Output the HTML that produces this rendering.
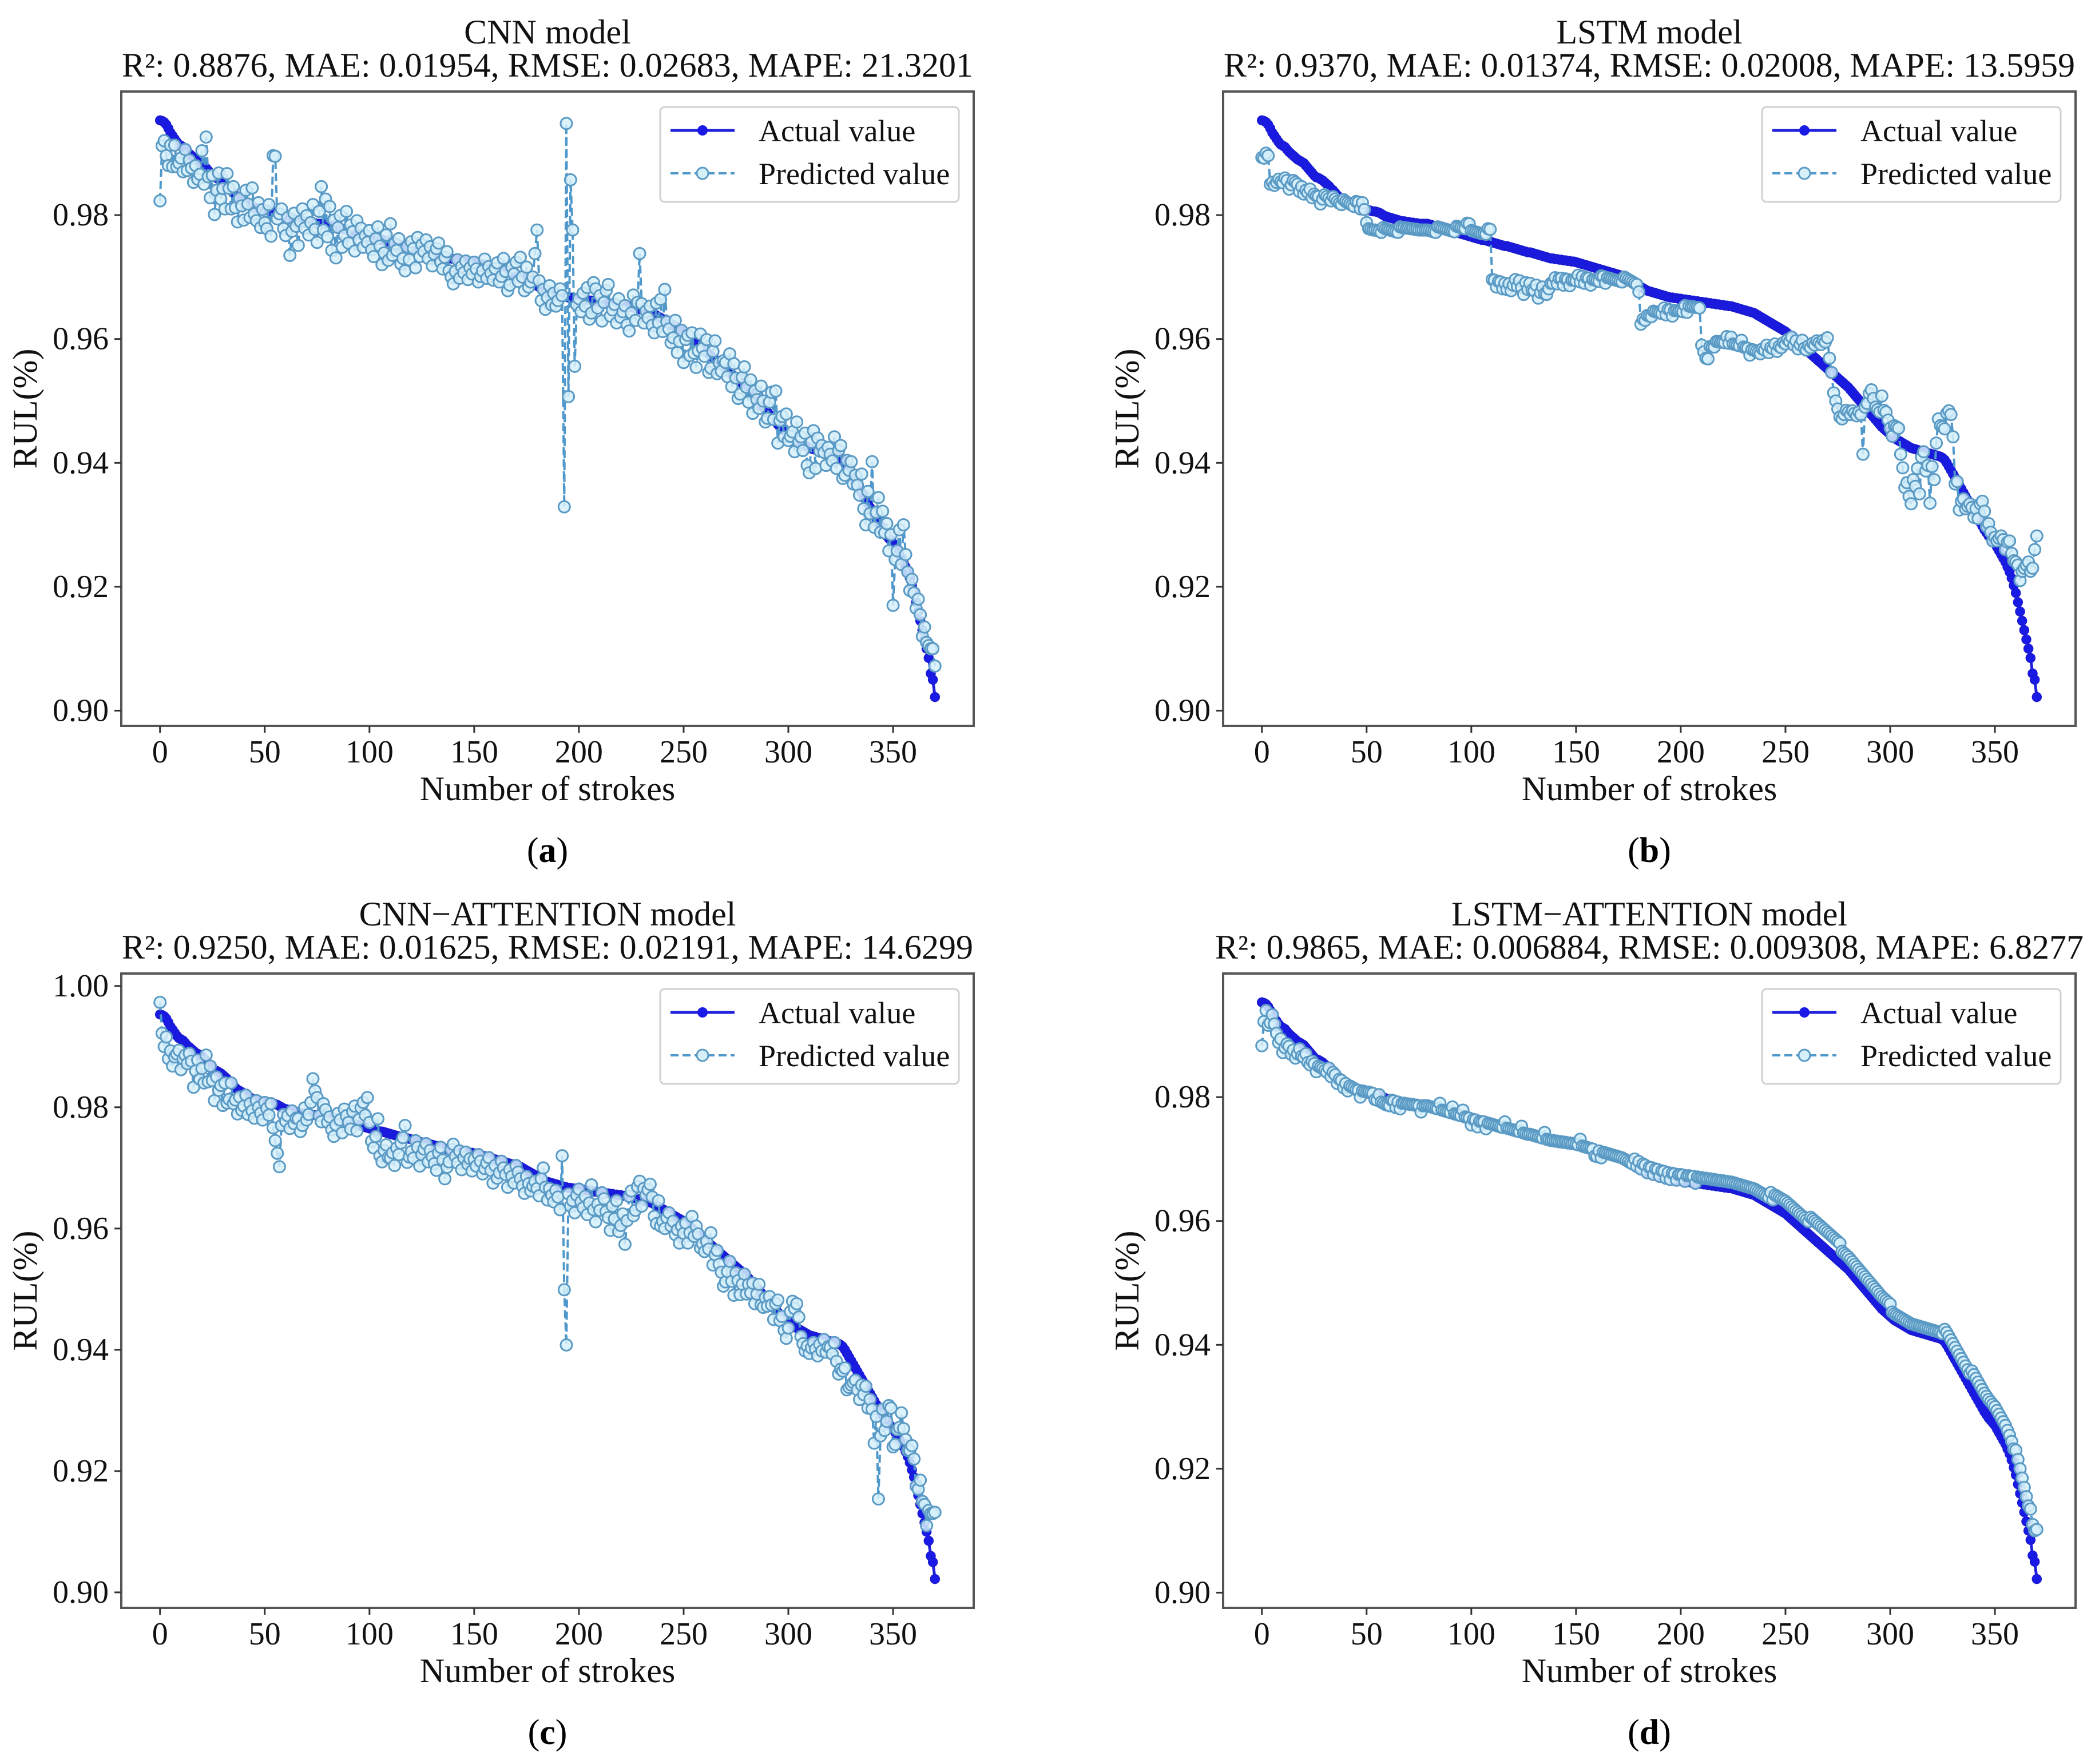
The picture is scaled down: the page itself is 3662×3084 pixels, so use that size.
<!DOCTYPE html>
<html><head><meta charset="utf-8">
<style>
html,body{margin:0;padding:0;background:#fff;}
svg{display:block;font-family:"Liberation Serif",serif;}
</style></head>
<body>
<svg id="fig" width="3662" height="3084" viewBox="0 0 3662 3084" xmlns="http://www.w3.org/2000/svg"></svg>
<script>
// ---------- DATA (values are RUL x 10000 for actual; prediction offsets in units of 0.001) ----------
const strokesCount = 371;
const actualRul = [
9953,9952,9950,9946,9940,9933,9928,9923,9918,9914,
9912,9910,9906,9902,9899,9896,9893,9890,9888,9886,
9884,9880,9876,9872,9868,9864,9861,9860,9858,9856,
9853,9850,9847,9843,9840,9836,9832,9829,9827,9825,
9822,9820,9818,9816,9814,9812,9811,9810,9810,9809,
9808,9808,9807,9806,9806,9805,9804,9802,9800,9798,
9797,9796,9795,9794,9793,9792,9791,9790,9790,9789,
9789,9788,9788,9787,9787,9786,9786,9786,9786,9786,
9785,9784,9783,9782,9781,9780,9779,9778,9777,9776,
9775,9774,9773,9772,9771,9770,9769,9768,9767,9766,
9765,9764,9763,9762,9761,9760,9760,9759,9758,9757,
9756,9755,9754,9753,9752,9751,9750,9750,9749,9748,
9747,9746,9745,9744,9743,9742,9741,9740,9740,9739,
9738,9737,9736,9735,9734,9733,9732,9731,9730,9730,
9729,9729,9728,9728,9727,9727,9726,9726,9725,9725,
9724,9723,9722,9721,9720,9719,9718,9717,9716,9715,
9714,9713,9712,9711,9710,9709,9708,9707,9706,9705,
9704,9703,9702,9700,9698,9696,9694,9692,9690,9688,
9686,9684,9682,9680,9678,9677,9676,9675,9674,9673,
9672,9671,9670,9669,9668,9667,9667,9666,9666,9665,
9665,9664,9664,9663,9663,9662,9662,9661,9661,9660,
9660,9659,9659,9658,9658,9657,9657,9656,9656,9655,
9655,9654,9654,9653,9653,9652,9651,9650,9649,9648,
9647,9646,9645,9644,9643,9642,9640,9638,9636,9634,
9632,9630,9628,9626,9624,9622,9620,9618,9616,9614,
9612,9609,9606,9603,9600,9597,9594,9591,9588,9585,
9582,9579,9576,9573,9570,9567,9564,9561,9558,9555,
9552,9549,9546,9543,9540,9537,9534,9531,9528,9525,
9522,9518,9514,9510,9506,9502,9498,9494,9490,9486,
9482,9478,9474,9470,9466,9462,9458,9455,9452,9449,
9446,9443,9440,9438,9436,9434,9432,9430,9428,9426,
9424,9423,9422,9421,9420,9419,9418,9417,9416,9415,
9414,9413,9412,9411,9410,9408,9405,9400,9394,9388,
9382,9376,9370,9364,9358,9352,9346,9340,9334,9328,
9322,9316,9310,9304,9298,9292,9287,9282,9278,9274,
9270,9264,9258,9252,9246,9240,9232,9224,9214,9202,
9190,9175,9160,9145,9130,9115,9100,9085,9060,9050,
9022];

const cnnPredOffset = [
-13,-4,-3,-5,-6,-2,-5,-1,-4,-3, -2,-4,0,-3,-1,-2,-4,-1,-3,-2,
2,-3,5,-1,-4,0,-6,-2,1,-3, -1,-4,2,0,-3,1,-2,-4,0,-1,
-3,2,0,-2,3,-1,-2,1,-3,0, -2,-3,1,-4,9,9,-1,0,1,-2,
-3,0,-6,-2,1,-1,-4,0,2,-1, 1,-2,0,3,-1,-3,2,6,-1,4,
-2,3,-4,1,-5,0,2,-3,-1,3, -2,1,0,-3,2,-1,1,-2,0,-1,
1,-2,-3,0,2,-1,-4,-2,1,-3, 3,-2,0,-1,1,-3,-2,-4,0,-2,
1,0,-3,2,-1,1,0,2,-1,1, -2,0,1,2,-1,-2,0,1,-2,-3,
-4,-2,0,-3,-1,-2,0,-3,-1,-2, 0,-1,-3,-2,-1,1,-2,0,-1,-2,
0,1,-2,-1,2,0,-3,-2,1,0, 2,-1,3,0,-2,2,-1,0,1,5,
9,1,-2,0,-3,-1,1,-2,0,-2, -1,1,0,-34,28,-16,19,11,-11,-1,
0,-2,1,-1,2,-3,-2,3,2,-1, 1,-3,0,2,3,-2,-1,0,-3,1,
-2,-1,0,-3,-4,-1,2,-2,1,9, 1,-2,0,-1,1,-2,-3,2,-1,3,
-2,5,0,-1,-3,-2,1,-4,-2,0, -5,-1,0,-3,1,-2,-4,-1,2,0,
-1,2,-3,-2,1,3,-2,0,-1,1, 1,-1,3,-2,2,0,-3,-2,1,3,
0,-2,2,-3,1,0,-1,3,1,-2, -1,2,4,0,5,-3,1,2,-1,3,
-1,0,1,-2,3,0,1,-1,2,-3, -4,1,3,-3,2,0,1,0,-2,1,
0,-1,3,-2,1,2,-3,-2,1,0, 2,-1,1,0,-1,3,-2,-4,2,-1,
8,-2,1,4,-1,3,0,2,-2,1, -10,-2,0,4,-1,6,2,0,-2,1,
0,-1,2,1,-1,2,1,2,4,5, 5];

const lstmPredOffset = [
-6,-6,-5,-5,-9,-8,-8,-7,-6,-6, -6,-5,-5,-6,-5,-4,-4,-4,-5,-4,
-5,-4,-4,-3,-4,-3,-3,-3,-4,-3, -2,-2,-2,-2,-1,-1,-1,-1,-1,0,
0,0,0,0,0,1,1,0,1,0, -2,-3,-3,-3,-3,-3,-3,-3,-2,-2,
-2,-2,-2,-2,-2,-2,-1,-1,-1,-1, -1,-1,-1,-1,-1,-1,-1,-1,-1,-1,
-1,-1,-1,-1,0,0,0,0,0,0, 0,0,0,1,1,1,1,1,2,2,
1,1,1,1,1,1,1,1,2,2, -6,-6,-7,-6,-6,-7,-6,-7,-6,-7,
-6,-5,-6,-5,-6,-7,-5,-6,-5,-6, -6,-5,-7,-6,-5,-6,-6,-5,-4,-4,
-3,-4,-3,-3,-4,-3,-3,-4,-3,-3, -3,-2,-3,-2,-3,-2,-2,-3,-2,-2,
-2,-2,-1,-1,-2,-1,-1,-1,-1,-1, -1,-1,-1,0,0,0,0,0,0,0,
-1,-6,-5,-5,-4,-4,-4,-3,-3,-3, -3,-3,-2,-3,-2,-2,-3,-2,-2,-2,
-2,-2,-1,-2,-1,-1,-1,-1,-1,-1, -7,-8,-9,-9,-7,-7,-7,-6,-6,-6,
-6,-6,-5,-6,-5,-6,-6,-6,-6,-5, -6,-6,-6,-7,-6,-6,-6,-6,-6,-5,
-5,-4,-5,-4,-4,-3,-4,-3,-3,-2, -2,-1,-1,0,-1,0,-1,0,1,0,
0,1,1,2,2,3,3,3,4,4, 5,2,0,-3,-4,-5,-6,-6,-5,-4,
-4,-4,-3,-3,-3,-2,-2,-8,0,1, 3,4,3,2,2,2,5,3,3,2,
1,0,2,2,2,-2,-4,-7,-6,-8, -9,-5,-6,-3,-7,-1,0,-3,-2,-8,
-2,-4,2,6,5,5,5,8,9,9, 6,-1,0,-4,-2,-1,-2,-1,0,0,
-1,1,0,3,4,3,1,2,1,0, 1,1,2,3,3,2,4,5,4,4,
5,6,5,8,10,12,14,14,17,21, 26];

const cnnAttPredOffset = [
2,-3,-5,-3,-6,-4,-6,-4,-3,-2, -5,-3,-2,-3,-1,-2,-6,-3,-1,-4,
-2,-4,1,-3,0,-2,-5,-1,-3,-2, -5,-1,-4,-3,0,-3,-2,-4,-1,-3,
-2,0,-3,-1,-2,-3,0,-1,-2,-3, 0,-1,-2,0,-4,-6,-8,-10,-3,-1,
-2,-1,-3,0,-2,-1,-1,-3,-2,1, -1,0,2,6,4,3,0,-1,2,1,
-1,0,-2,-3,-1,1,0,-2,2,1, 0,-1,2,3,-1,1,3,4,2,5,
1,-2,-3,-1,2,-4,-5,-3,-2,-4, -4,-3,-5,-2,-3,-1,0,2,-4,-3,
-2,-3,0,-1,-4,-2,-1,0,-3,-1, -2,-3,-4,-1,0,-2,-5,-3,-2,0,
1,-1,-2,0,-3,-1,0,-2,-1,-3, -1,-2,0,-1,-3,-2,-1,0,-2,-4,
-1,-3,-2,0,-1,-2,-4,-1,-2,-3, 0,-1,-2,-3,-4,-1,-2,-3,-2,-1,
-2,-3,0,2,-1,-3,-1,-2,-3,-1, -2,-4,5,-17,-26,-1,-3,-2,-4,-1,
0,-2,-3,-1,-4,-2,1,-3,-5,-2, -3,0,-1,-3,-4,-6,-2,-4,-1,-6,
-5,-3,-8,-4,0,1,-3,-2,2,3, -1,2,1,2,3,1,-2,-3,1,-3,
-2,-3,-1,0,-2,-1,-3,-2,-4,-1, -2,0,-3,-1,2,-1,1,0,-2,-1,
-2,0,-1,2,-3,-1,0,-2,-3,-5, -4,-2,0,-3,-5,-1,-2,-4,-2,0,
-3,-1,-2,0,-3,-1,1,-2,-2,0, -1,1,0,-2,1,2,-1,0,-2,-3,
-1,2,4,3,4,2,-1,-2,-3,-2, -3,-2,-1,-2,-3,-1,-2,0,-2,-1,
-1,-2,0,-3,-5,-4,-4,-3,-6,-5, -4,-3,-2,-3,-4,-1,-2,0,-3,-1,
-2,-7,-2,-15,-4,1,-2,0,3,3, -3,-2,1,2,5,3,2,1,2,4,
3,0,1,4,2,3,1,5,7,8, 11];

const lstmAttPredOffset = [
-7,-3,-1,-3,-2,0,-1,-2,-3,-2, -4,-3,-2,-2,-3,-2,-3,-2,-1,-2,
-2,-1,-2,-2,-1,-1,-2,-1,-1,-1, -1,-1,0,-1,0,0,-1,0,0,-1,
0,-1,0,0,0,0,0,-1,0,0, 0,0,0,0,-1,-1,0,-1,-1,-1,
-1,-1,0,0,-1,0,-1,0,0,0, 0,0,0,0,0,0,-1,0,0,0,
0,0,0,0,0,1,0,0,0,0, 0,1,0,0,0,0,1,0,0,0,
-1,0,0,-1,0,0,0,-1,0,0, 0,0,0,0,0,0,1,0,0,0,
0,0,0,0,1,0,0,0,0,0, 0,0,0,0,0,1,0,0,0,0,
0,0,0,0,0,0,0,0,0,0, 0,0,1,0,0,0,0,0,0,-1,
-1,0,-1,0,0,0,0,0,0,0, 0,0,0,0,0,0,0,0,1,0,
1,0,1,1,0,1,1,0,1,1, 0,1,1,0,1,0,1,1,0,1,
1,1,0,1,1,1,1,0,1,1, 1,1,1,1,1,1,1,1,1,1,
1,1,1,1,1,1,1,1,1,1, 1,1,1,1,1,1,1,1,1,1,
1,1,1,2,1,2,2,2,2,2, 2,2,2,2,2,2,2,2,2,2,
2,2,3,3,3,3,3,3,3,3, 3,3,3,3,3,3,3,2,2,2,
2,2,2,2,2,2,2,2,2,2, 2,2,2,2,2,2,2,2,2,2,
2,1,1,1,1,1,1,1,1,1, 1,1,1,1,1,1,1,1,1,1,
1,1,1,1,1,1,2,2,2,2, 2,2,2,2,2,2,2,2,2,3,
3,3,3,3,3,3,3,3,3,3, 3,3,3,3,3,3,3,3,3,3,
4,4,4,4,4,4,4,5,5,5, 8];

const panelNames = ["CNN model","LSTM model","CNN\u2212ATTENTION model","LSTM\u2212ATTENTION model"];
const panelMetrics = [
"R\u00b2: 0.8876, MAE: 0.01954, RMSE: 0.02683, MAPE: 21.3201",
"R\u00b2: 0.9370, MAE: 0.01374, RMSE: 0.02008, MAPE: 13.5959",
"R\u00b2: 0.9250, MAE: 0.01625, RMSE: 0.02191, MAPE: 14.6299",
"R\u00b2: 0.9865, MAE: 0.006884, RMSE: 0.009308, MAPE: 6.8277"];
const panelLetters = ["a","b","c","d"];
const xTicks = [0,50,100,150,200,250,300,350];
const yTicksShort = [0.90,0.92,0.94,0.96,0.98];
const yTicksLong = [0.90,0.92,0.94,0.96,0.98,1.00];

// ---------- DRAWING ----------
const NS = "http://www.w3.org/2000/svg";
const svg = document.getElementById("fig");
function mk(tag, attrs, parent){
  const e = document.createElementNS(NS, tag);
  for (const k in attrs) e.setAttribute(k, attrs[k]);
  (parent || svg).appendChild(e);
  return e;
}
const AX_W = 1490, AX_H = 1109;
const origins = [[212,160],[2138,160],[212,1702],[2138,1702]];
const offsetsList = [cnnPredOffset, lstmPredOffset, cnnAttPredOffset, lstmAttPredOffset];

for (let p = 0; p < 4; p++) {
  const [L, T] = origins[p];
  const g = mk("g", {});
  
  
  const act = actualRul.map(v => v / 10000);
  const pred = act.map((v, i) => v + (offsetsList[p][i] || 0) / 1000);
  const all = act.concat(pred);
  const ymin = Math.min(...all), ymax = Math.max(...all);
  const ypad = (ymax - ymin) * 0.05;
  const y0 = ymin - ypad, y1 = ymax + ypad;
  const n = actualRul.length;
  const x0 = -(n - 1) * 0.05, x1 = (n - 1) * 1.05;
  const sx = v => L + (v - x0) / (x1 - x0) * AX_W;
  const sy = v => T + AX_H - (v - y0) / (y1 - y0) * AX_H;

  const frame = mk("rect", {x:L, y:T, width:AX_W, height:AX_H, fill:"#fff", stroke:"none"}, g);
  
  

  let d = act.map((v,i)=>(i?"L":"M")+sx(i).toFixed(1)+","+sy(v).toFixed(1)).join("");
  const aLine = mk("path", {d:d, fill:"none", stroke:"#2020dc", "stroke-width":5}, g);
  
  
  const aMarks = mk("g", {}, g);
  
  
  act.forEach((v,i)=>{
    const c = mk("circle", {cx:sx(i), cy:sy(v), r:8, fill:"#1a1ae6", stroke:"#1a1ad0", "stroke-width":1.5}, aMarks);
    
    
  });

  d = pred.map((v,i)=>(i?"L":"M")+sx(i).toFixed(1)+","+sy(v).toFixed(1)).join("");
  const pLine = mk("path", {d:d, fill:"none", stroke:"#4f98cc", "stroke-width":4, "stroke-dasharray":"14,7"}, g);
  
  
  const pMarks = mk("g", {}, g);
  
  
  pred.forEach((v,i)=>{
    const c = mk("circle", {cx:sx(i), cy:sy(v), r:10, fill:"rgba(214,240,250,0.85)", stroke:"#5a9ac4", "stroke-width":3}, pMarks);
    
    
  });

  const border = mk("rect", {x:L, y:T, width:AX_W, height:AX_H, fill:"none", stroke:"#555", "stroke-width":4}, g);
  
  

  xTicks.forEach(t=>{
    const x = sx(t);
    const tk = mk("line", {x1:x, y1:T+AX_H, x2:x, y2:T+AX_H+12, stroke:"#333", "stroke-width":3}, g);
    
    
    const tl = mk("text", {x:x, y:T+AX_H+64, "text-anchor":"middle", "font-size":56, fill:"#111"}, g);
    
    
    tl.textContent = String(t);
  });
  const yt = (y1 > 1.0) ? yTicksLong : yTicksShort;
  yt.forEach(t=>{
    const y = sy(t);
    const tk = mk("line", {x1:L-12, y1:y, x2:L, y2:y, stroke:"#333", "stroke-width":3}, g);
    
    
    const tl = mk("text", {x:L-22, y:y+18, "text-anchor":"end", "font-size":56, fill:"#111"}, g);
    
    
    tl.textContent = t.toFixed(2);
  });

  const cx = L + AX_W/2;
  const t1 = mk("text", {x:cx, y:T-84, "text-anchor":"middle", "font-size":60, fill:"#111"}, g);
  
  
  t1.textContent = panelNames[p];
  const t2 = mk("text", {x:cx, y:T-26, "text-anchor":"middle", "font-size":60, fill:"#111"}, g);
  
  
  t2.textContent = panelMetrics[p];

  const xl = mk("text", {x:cx, y:T+AX_H+130, "text-anchor":"middle", "font-size":60, fill:"#111"}, g);
  
  
  xl.textContent = "Number of strokes";
  const ylx = L - 148, yly = T + AX_H/2;
  const yl = mk("text", {x:ylx, y:yly, "text-anchor":"middle", "font-size":60, fill:"#111", transform:"rotate(-90 "+ylx+" "+yly+")"}, g);
  
  
  yl.textContent = "RUL(%)";

  const pl = mk("text", {x:cx, y:T+AX_H+238, "text-anchor":"middle", "font-size":62, fill:"#000"}, g);
  
  
  const s1 = mk("tspan", {}, pl); s1.textContent = "(";
  const s2 = mk("tspan", {"font-weight":"bold"}, pl); s2.textContent = panelLetters[p];
  const s3 = mk("tspan", {}, pl); s3.textContent = ")";

  const lg = mk("g", {}, g);
  
  
  const LX = L + 942, LY = T + 27;
  mk("rect", {x:LX, y:LY, width:522, height:166, rx:8, fill:"rgba(255,255,255,0.85)", stroke:"#d0d0d0", "stroke-width":3}, lg);
  const e1 = mk("g", {}, lg);
  
  
  mk("line", {x1:LX+18, y1:LY+41, x2:LX+130, y2:LY+41, stroke:"#2020dc", "stroke-width":5}, e1);
  mk("circle", {cx:LX+74, cy:LY+41, r:9, fill:"#1a1ae6"}, e1);
  const lt1 = mk("text", {x:LX+172, y:LY+60, "font-size":54, fill:"#111"}, e1);
  lt1.textContent = "Actual value";
  const e2 = mk("g", {}, lg);
  
  
  mk("line", {x1:LX+18, y1:LY+116, x2:LX+130, y2:LY+116, stroke:"#4f98cc", "stroke-width":4, "stroke-dasharray":"14,7"}, e2);
  mk("circle", {cx:LX+74, cy:LY+116, r:10, fill:"#d6f0fa", stroke:"#5a9ac4", "stroke-width":3}, e2);
  const lt2 = mk("text", {x:LX+172, y:LY+135, "font-size":54, fill:"#111"}, e2);
  lt2.textContent = "Predicted value";
}
</script>
</body></html>
